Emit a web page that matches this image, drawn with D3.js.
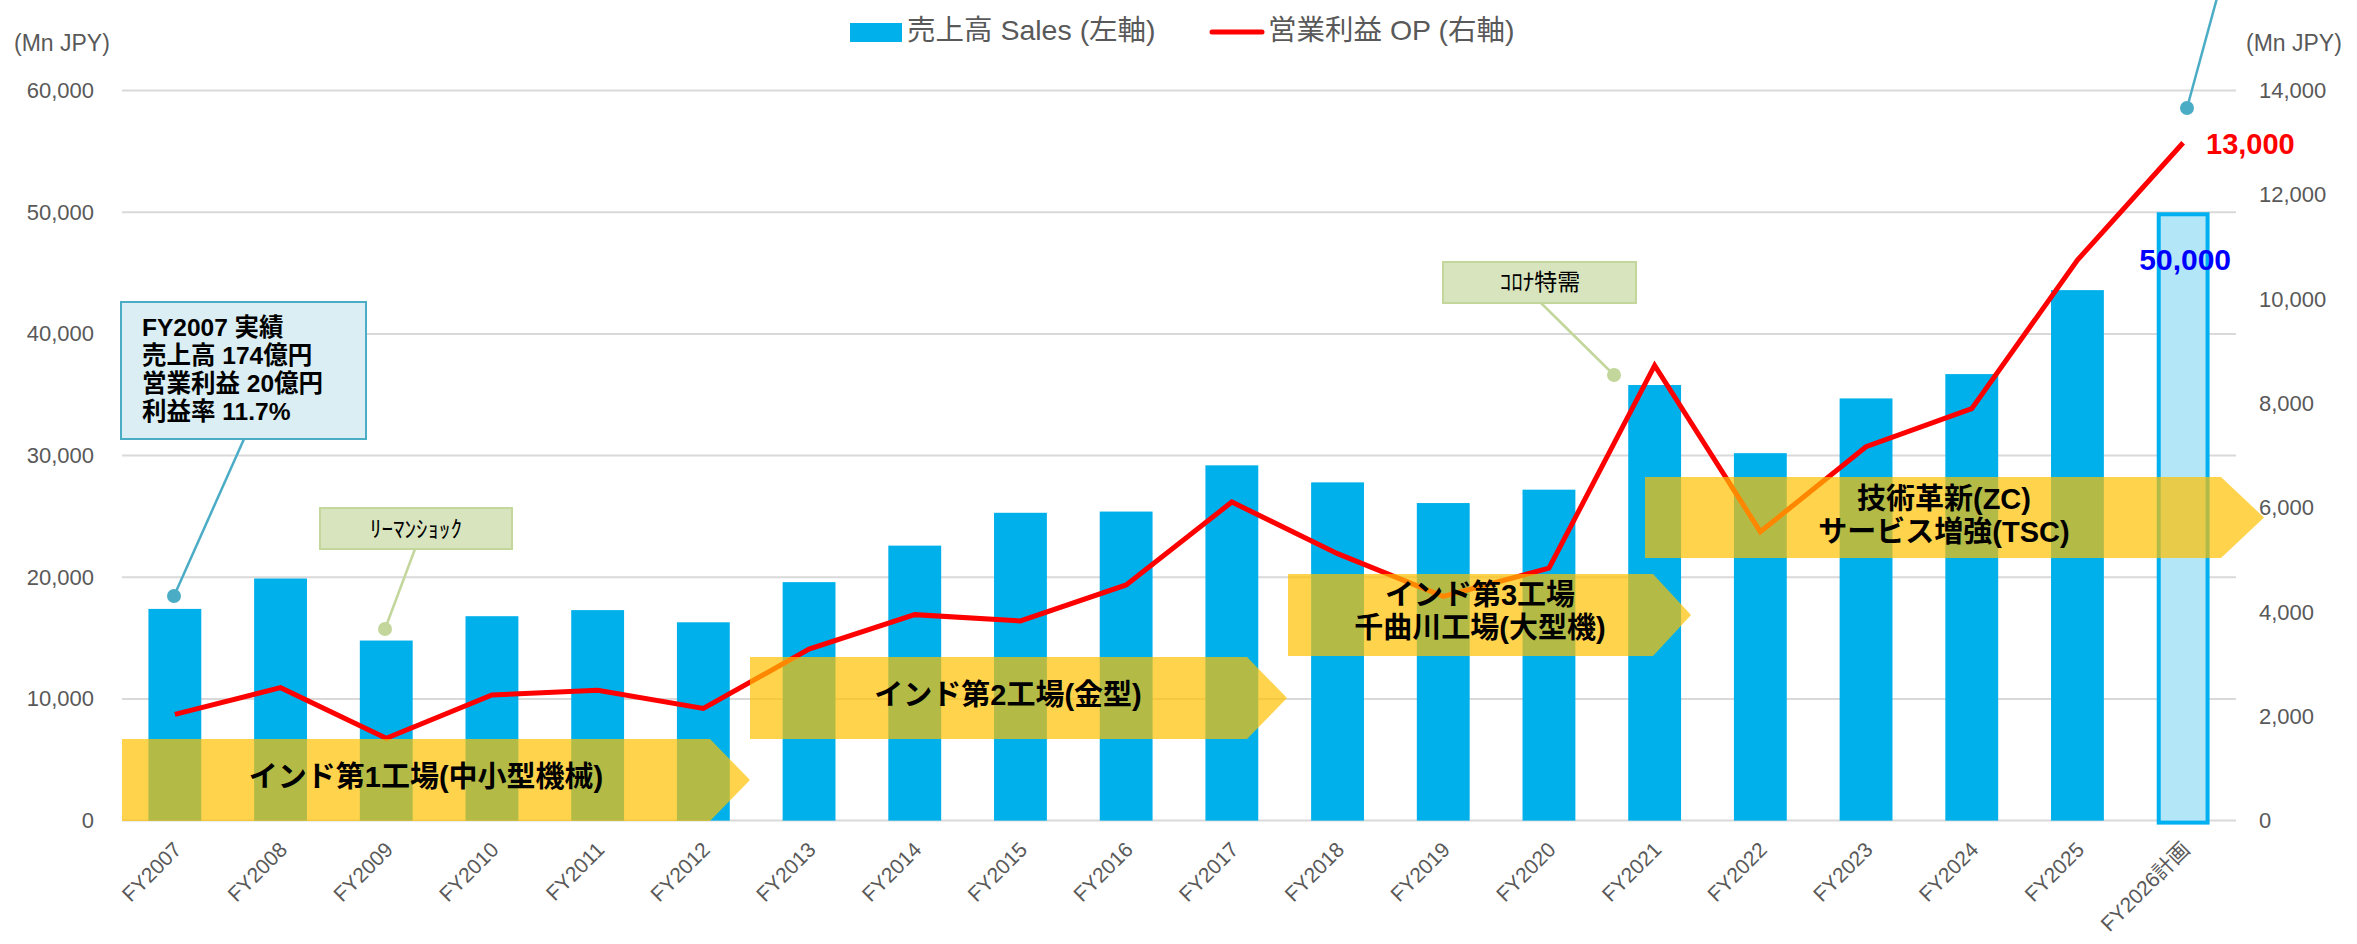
<!DOCTYPE html>
<html>
<head>
<meta charset="utf-8">
<script src="https://cdn.jsdelivr.net/npm/d3@7"></script>
<style>
  html, body { margin: 0; padding: 0; background: #fff; }
  svg { display: block; }
  text { font-family: "Liberation Sans", "Noto Sans CJK JP", sans-serif; }
</style>
</head>
<body>
<svg id="chart" width="2357" height="944"></svg>
<script>
// ---- data ----
const categories = ["FY2007","FY2008","FY2009","FY2010","FY2011","FY2012","FY2013","FY2014","FY2015","FY2016",
                    "FY2017","FY2018","FY2019","FY2020","FY2021","FY2022","FY2023","FY2024","FY2025","FY2026計画"];
const sales = [17400, 19900, 14800, 16800, 17300, 16300, 19600, 22600, 25300, 25400,
               29200, 27800, 26100, 27200, 35800, 30200, 34700, 36700, 43600, 50000];
const operatingProfit = [2036, 2550, 1580, 2410, 2500, 2150, 3290, 3950, 3830, 4520,
                         6110, 5120, 4300, 4840, 8730, 5540, 7170, 7900, 10750, 13000];
const leftTicks = [0, 10000, 20000, 30000, 40000, 50000, 60000];
const rightTicks = [0, 2000, 4000, 6000, 8000, 10000, 12000, 14000];
const planCategory = "FY2026計画";
const legendLabels = ["売上高 Sales (左軸)", "営業利益 OP (右軸)"];
const axisUnit = "(Mn JPY)";
const phaseLabels = [
  ["インド第1工場(中小型機械)"],
  ["インド第2工場(金型)"],
  ["インド第3工場", "千曲川工場(大型機)"],
  ["技術革新(ZC)", "サービス増強(TSC)"]
];
const fy2007Note = ["FY2007 実績", "売上高 174億円", "営業利益 20億円", "利益率 11.7%"];
const eventLabels = ["ﾘｰﾏﾝｼｮｯｸ", "ｺﾛﾅ特需"];

// ---- layout ----
const svg = d3.select("#chart");
const plot = { left: 122, right: 2236, top: 90.6, bottom: 820.6 };
const x = d3.scaleBand().domain(categories).range([plot.left, plot.right]).paddingInner(0.5).paddingOuter(0.25);
const yL = d3.scaleLinear().domain([0, 60000]).range([plot.bottom, plot.top]);
const yR = d3.scaleLinear().domain([0, 14000]).range([plot.bottom, plot.top]);
const fmt = d3.format(",");
const gray = "#595959";
const barColor = "#00B0EB";

// gridlines
svg.append("g").selectAll("line").data(leftTicks).join("line")
  .attr("x1", plot.left).attr("x2", plot.right)
  .attr("y1", d => yL(d)).attr("y2", d => yL(d))
  .attr("stroke", "#D9D9D9").attr("stroke-width", 2);

// left axis labels
svg.append("g").selectAll("text").data(leftTicks).join("text")
  .attr("x", 94).attr("y", d => yL(d)).attr("text-anchor", "end")
  .attr("dominant-baseline", "central")
  .attr("font-size", 22).attr("fill", gray).text(d => fmt(d));

// right axis labels
svg.append("g").selectAll("text").data(rightTicks).join("text")
  .attr("x", 2259).attr("y", d => yR(d)).attr("text-anchor", "start")
  .attr("dominant-baseline", "central")
  .attr("font-size", 22).attr("fill", gray).text(d => fmt(d));

// units
svg.append("text").attr("x", 14).attr("y", 43).attr("dominant-baseline", "central")
  .attr("font-size", 23).attr("fill", gray).text(axisUnit);
svg.append("text").attr("x", 2246).attr("y", 43).attr("dominant-baseline", "central")
  .attr("font-size", 23).attr("fill", gray).text(axisUnit);

// bars
const barData = categories.map((c, i) => ({ c, v: sales[i] }));
svg.append("g").selectAll("rect").data(barData.filter(d => d.c !== planCategory)).join("rect")
  .attr("x", d => x(d.c)).attr("width", x.bandwidth())
  .attr("y", d => yL(d.v)).attr("height", d => yL(0) - yL(d.v))
  .attr("fill", barColor);
svg.append("g").selectAll("rect").data(barData.filter(d => d.c === planCategory)).join("rect")
  .attr("x", d => x(d.c) + 2).attr("width", x.bandwidth() - 4)
  .attr("y", d => yL(d.v) + 2).attr("height", d => yL(0) - yL(d.v))
  .attr("fill", "#B3E6F6").attr("stroke", "#00B0F0").attr("stroke-width", 4);

// OP line
const line = d3.line().x((d, i) => x(categories[i]) + x.bandwidth() / 2).y(d => yR(d));
svg.append("path").datum(operatingProfit).attr("d", line)
  .attr("fill", "none").attr("stroke", "#FF0000").attr("stroke-width", 5)
  .attr("stroke-linejoin", "miter");

// x labels
svg.append("g").selectAll("text").data(categories).join("text")
  .attr("transform", d => `translate(${x(d) + x.bandwidth() / 2 + 8},851) rotate(-45)`)
  .attr("text-anchor", "end").attr("font-size", 21).attr("fill", gray).text(d => d);

// phase arrows
const arrows = [
  { x0: 122, xb: 710, xt: 750, y0: 739, y1: 821, cx: 426, ly: [777] },
  { x0: 750, xb: 1247, xt: 1287, y0: 657, y1: 739, cx: 1008, ly: [695] },
  { x0: 1288, xb: 1653, xt: 1691, y0: 574, y1: 656, cx: 1480, ly: [595, 628] },
  { x0: 1645, xb: 2221, xt: 2264, y0: 477, y1: 558, cx: 1944, ly: [499, 532] }
];
arrows.forEach((a, i) => {
  const ym = (a.y0 + a.y1) / 2;
  svg.append("path")
    .attr("d", `M${a.x0},${a.y0}L${a.xb},${a.y0}L${a.xt},${ym}L${a.xb},${a.y1}L${a.x0},${a.y1}Z`)
    .attr("fill", "#FFC000").attr("fill-opacity", 0.7);
  phaseLabels[i].forEach((t, j) => {
    svg.append("text").attr("x", a.cx).attr("y", a.ly[j])
      .attr("text-anchor", "middle").attr("dominant-baseline", "central")
      .attr("font-family", "'Noto Sans CJK JP', sans-serif")
      .attr("font-weight", 700).attr("font-size", 29).attr("fill", "#000").text(t);
  });
});

// callouts
function leader(x1, y1, x2, y2, color) {
  svg.append("line").attr("x1", x1).attr("y1", y1).attr("x2", x2).attr("y2", y2)
    .attr("stroke", color).attr("stroke-width", 2.5);
  svg.append("circle").attr("cx", x2).attr("cy", y2).attr("r", 7).attr("fill", color);
}
const teal = "#4BACC6", green = "#C3D69B";

// FY2007 note
leader(244, 439, 174, 596, teal);
svg.append("rect").attr("x", 121).attr("y", 302).attr("width", 245).attr("height", 137)
  .attr("fill", "#DAEEF3").attr("stroke", teal).attr("stroke-width", 2);
fy2007Note.forEach((t, j) => {
  svg.append("text").attr("x", 142).attr("y", 327 + j * 28.3).attr("dominant-baseline", "central")
    .attr("font-family", "'Noto Sans CJK JP', sans-serif")
    .attr("font-weight", 700).attr("font-size", 24.5).attr("fill", "#000").text(t);
});

// Lehman
leader(415, 549, 385, 629, green);
svg.append("rect").attr("x", 320).attr("y", 508).attr("width", 192).attr("height", 41)
  .attr("fill", "#D7E4BD").attr("stroke", green).attr("stroke-width", 2);
svg.append("text").attr("x", 416).attr("y", 529).attr("text-anchor", "middle").attr("dominant-baseline", "central")
  .attr("font-family", "'Noto Sans CJK JP', sans-serif").attr("font-size", 23).attr("fill", "#000").text(eventLabels[0]);

// Corona
leader(1541, 303, 1614, 375, green);
svg.append("rect").attr("x", 1443).attr("y", 262).attr("width", 193).attr("height", 41)
  .attr("fill", "#D7E4BD").attr("stroke", green).attr("stroke-width", 2);
svg.append("text").attr("x", 1540).attr("y", 282).attr("text-anchor", "middle").attr("dominant-baseline", "central")
  .attr("font-family", "'Noto Sans CJK JP', sans-serif").attr("font-size", 23).attr("fill", "#000").text(eventLabels[1]);

// top-right leader going off canvas
leader(2217, -2, 2187, 108, teal);

// value labels
const last = categories.length - 1;
svg.append("text").attr("x", 2206).attr("y", 144).attr("dominant-baseline", "central")
  .attr("font-weight", 700).attr("font-size", 29).attr("fill", "#FF0000").text(fmt(operatingProfit[last]));
svg.append("text").attr("x", x(planCategory) + x.bandwidth() / 2 + 2).attr("y", 259)
  .attr("text-anchor", "middle").attr("dominant-baseline", "central")
  .attr("font-weight", 700).attr("font-size", 30).attr("fill", "#0000FF").text(fmt(sales[last]));

// legend
svg.append("rect").attr("x", 850).attr("y", 23).attr("width", 52).attr("height", 19).attr("fill", barColor);
svg.append("text").attr("x", 907).attr("y", 30).attr("dominant-baseline", "central")
  .attr("font-family", "'Noto Sans CJK JP', sans-serif").attr("font-size", 28.5).attr("fill", gray).text(legendLabels[0]);
svg.append("line").attr("x1", 1212).attr("x2", 1262).attr("y1", 32).attr("y2", 32)
  .attr("stroke", "#FF0000").attr("stroke-width", 5).attr("stroke-linecap", "round");
svg.append("text").attr("x", 1268).attr("y", 30).attr("dominant-baseline", "central")
  .attr("font-family", "'Noto Sans CJK JP', sans-serif").attr("font-size", 28.5).attr("fill", gray).text(legendLabels[1]);
</script>
</body>
</html>
